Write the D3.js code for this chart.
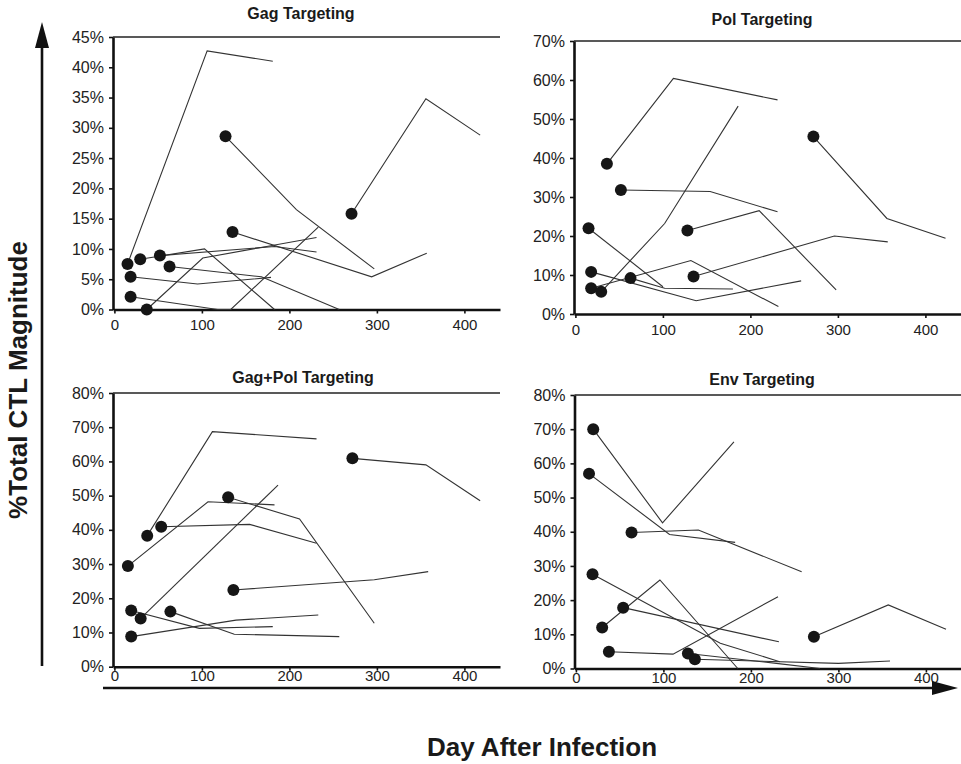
<!DOCTYPE html>
<html>
<head>
<meta charset="utf-8">
<script src="https://cdn.jsdelivr.net/npm/d3@7/dist/d3.min.js"></script>
<style>
body { margin: 0; background: #fff; }
svg { display: block; font-family: "Liberation Sans", Arial, sans-serif; }
</style>
</head>
<body>
<script>
// ticks
const xTicks = [0, 100, 200, 300, 400];
const gagTicks = [0, 5, 10, 15, 20, 25, 30, 35, 40, 45];
const polTicks = [0, 10, 20, 30, 40, 50, 60, 70];
const gagPolTicks = [0, 10, 20, 30, 40, 50, 60, 70, 80];
const envTicks = [0, 10, 20, 30, 40, 50, 60, 70, 80];

const titles = ["Gag Targeting", "Pol Targeting", "Gag+Pol Targeting", "Env Targeting"];

// each series = [[day, % of total CTL magnitude], ...], first point gets the dot
const gagSeries = [
  [[15, 7.5], [106, 42.7], [181, 41]],
  [[29.5, 8.3], [103, 10], [183, 0]],
  [[52, 8.9], [183, 10.4], [231, 9.5]],
  [[63, 7.1], [168, 5.4], [257, 0]],
  [[18.5, 5.4], [95, 4.2], [179, 5.3]],
  [[18.5, 2.1], [118, 0], [133, 0], [233, 13.6]],
  [[37, 0], [101, 8.5], [231, 11.9]],
  [[127, 28.6], [208, 16.5], [297, 6.7]],
  [[135, 12.8], [294, 5.4], [357, 9.3]],
  [[271, 15.8], [356, 34.8], [418, 28.8]]
];

const polSeries = [
  [[36, 38.5], [112, 60.4], [231, 54.9]],
  [[52, 31.8], [154, 31.4], [231, 26.2]],
  [[272, 45.5], [356, 24.5], [423, 19.4]],
  [[128, 21.4], [210, 26.5], [298, 6.2]],
  [[135, 9.6], [296, 20], [357, 18.5]],
  [[15, 22], [100, 7]],
  [[18, 10.8], [138, 3.4], [258, 8.5]],
  [[18, 6.6], [132, 13.7], [232, 1.9]],
  [[63, 9.2], [102, 6.6], [180, 6.4]],
  [[29.5, 5.7], [102, 23.2], [186, 53.3]]
];

const gagPolSeries = [
  [[37.5, 38.3], [112, 68.7], [231, 66.6]],
  [[15.4, 29.4], [107, 48.2], [183, 47.3]],
  [[53.5, 40.9], [154.5, 41.6], [231, 36.1]],
  [[130, 49.5], [211.6, 43.2], [297, 12.7]],
  [[30, 14.1], [187, 53.1]],
  [[272, 60.9], [356, 59], [418, 48.5]],
  [[136, 22.4], [297, 25.4], [358.6, 27.8]],
  [[19.2, 8.8], [139, 13.6], [233, 15.1]],
  [[64, 16.1], [137, 9.5], [257, 8.8]],
  [[19.2, 16.4], [97, 11.2], [181, 11.7]]
];

const envSeries = [
  [[19.8, 70], [99, 42.6], [180.6, 66.3]],
  [[15, 57], [107, 39.2], [182, 36.9]],
  [[63.6, 39.8], [140, 40.5], [258, 28.3]],
  [[19, 27.6], [165, 7.4], [233, 2]],
  [[54, 17.8], [232, 7.8]],
  [[30, 12], [96, 25.9], [185, 0]],
  [[37.7, 4.9], [111, 4.2], [231, 21]],
  [[128, 4.4], [229, 1.5], [279, 0]],
  [[136, 2.7], [300, 1.5], [359, 2.2]],
  [[272, 9.3], [357, 18.6], [423, 11.5]]
];

const width = 961, height = 764;
const pxPerDay = 0.875;
const svg = d3.select("body").append("svg")
  .attr("width", width)
  .attr("height", height);

// panel boxes (left, right, top, bottom)
const panels = [
  { series: gagSeries, ticks: gagTicks, max: 45, x0: 113, x1: 500, y0: 37, y1: 309.5, tx: 301, ty: 19, lab: 6 },
  { series: polSeries, ticks: polTicks, max: 70, x0: 574, x1: 961, y0: 41, y1: 314, tx: 762, ty: 25, lab: 6 },
  { series: gagPolSeries, ticks: gagPolTicks, max: 80, x0: 113, x1: 500, y0: 393, y1: 666.7, tx: 303, ty: 383, lab: 0 },
  { series: envSeries, ticks: envTicks, max: 80, x0: 574.5, x1: 961, y0: 395, y1: 668.5, tx: 762, ty: 385, lab: 0 }
];

panels.forEach((p, i) => {
  const d0 = -1.6, d1 = d0 + (p.x1 - p.x0) / pxPerDay;
  const x = d3.scaleLinear().domain([d0, d1]).range([p.x0, p.x1]);
  const y = d3.scaleLinear().domain([0, p.max]).range([p.y1, p.y0]);
  const g = svg.append("g");

  // top border
  g.append("line")
    .attr("x1", p.x0).attr("x2", p.x1)
    .attr("y1", p.y0).attr("y2", p.y0)
    .attr("stroke", "#222").attr("stroke-width", 1.6);

  const yAxis = g.append("g")
    .attr("transform", "translate(" + p.x0 + ",0)")
    .call(d3.axisLeft(y).tickValues(p.ticks).tickSize(4).tickSizeOuter(0).tickPadding(5)
      .tickFormat(d => d + "%"));
  yAxis.select(".domain").attr("stroke", "#111").attr("stroke-width", 2.6);
  yAxis.selectAll(".tick line").attr("stroke", "#111").attr("stroke-width", 1.6);
  yAxis.selectAll("text").attr("fill", "#222").style("font-size", "16px");

  const xAxis = g.append("g")
    .attr("transform", "translate(0," + p.y1 + ")")
    .call(d3.axisBottom(x).tickValues(xTicks).tickSize(4).tickSizeOuter(0).tickPadding(p.lab));
  xAxis.select(".domain").attr("stroke", "#111").attr("stroke-width", 2.6);
  xAxis.selectAll(".tick line").attr("stroke", "#111").attr("stroke-width", 1.6);
  xAxis.selectAll("text").attr("fill", "#222").style("font-size", "15px");

  const line = d3.line().x(d => x(d[0])).y(d => y(d[1]));
  g.selectAll("path.series")
    .data(p.series)
    .join("path")
    .attr("class", "series")
    .attr("d", line)
    .attr("fill", "none")
    .attr("stroke", "#333")
    .attr("stroke-width", 1.1);

  g.selectAll("circle")
    .data(p.series)
    .join("circle")
    .attr("cx", d => x(d[0][0]))
    .attr("cy", d => y(d[0][1]))
    .attr("r", 6)
    .attr("fill", "#161616");

  g.append("text")
    .attr("x", p.tx).attr("y", p.ty)
    .attr("text-anchor", "middle")
    .style("font-size", "16px").style("font-weight", "bold")
    .attr("fill", "#1a1a1a")
    .text(titles[i]);
});

// arrows
svg.append("line")
  .attr("x1", 42).attr("x2", 42).attr("y1", 666).attr("y2", 40)
  .attr("stroke", "#111").attr("stroke-width", 2.6);
svg.append("path")
  .attr("d", "M42,22 L35,48 L49,48 Z")
  .attr("fill", "#111");
svg.append("line")
  .attr("x1", 103).attr("x2", 940).attr("y1", 688).attr("y2", 688)
  .attr("stroke", "#111").attr("stroke-width", 2.6);
svg.append("path")
  .attr("d", "M958,688 L932,681 L932,695 Z")
  .attr("fill", "#111");

svg.append("text")
  .attr("transform", "translate(27,380) rotate(-90)")
  .attr("text-anchor", "middle")
  .style("font-size", "26px").style("font-weight", "bold")
  .attr("fill", "#1a1a1a")
  .text("%Total CTL Magnitude");

svg.append("text")
  .attr("x", 542).attr("y", 756)
  .attr("text-anchor", "middle")
  .style("font-size", "26px").style("font-weight", "bold")
  .attr("fill", "#1a1a1a")
  .text("Day After Infection");
</script>
</body>
</html>
